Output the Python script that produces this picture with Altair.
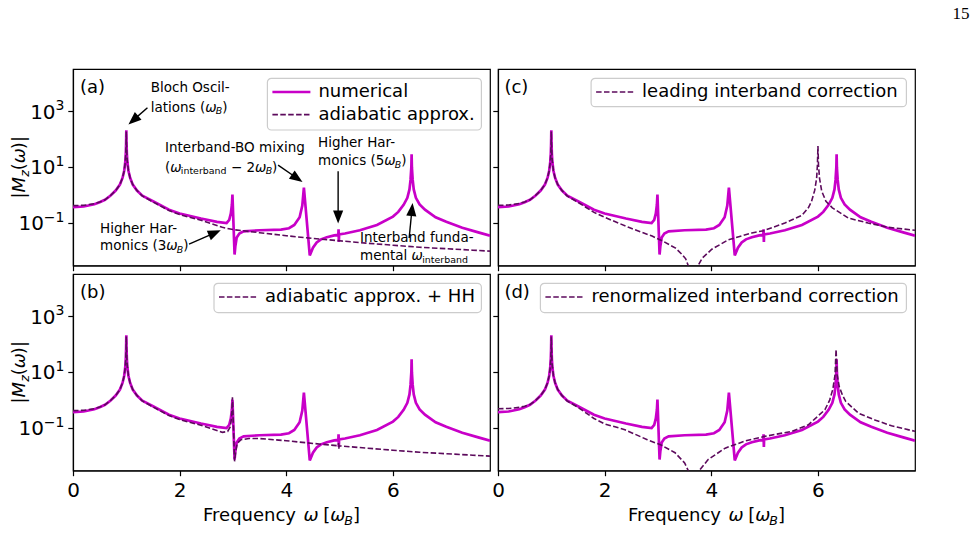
import math
import altair as alt
import pandas as pd

# |M_z(omega)| versus omega (in units of omega_B)
# numerical solution (same curve in all four panels)
num_w = [0.0, 0.2, 0.4, 0.5, 0.6, 0.7, 0.8, 0.88, 0.93, 0.96, 0.98, 0.99, 0.996, 1.0,
         1.004, 1.01, 1.02, 1.04, 1.07, 1.12, 1.2, 1.3, 1.5, 1.8, 2.0, 2.4, 2.7, 2.88,
         2.93, 2.96, 2.98, 2.99, 3.03, 3.045, 3.07, 3.12, 3.2, 3.5, 3.9, 4.05, 4.15,
         4.25, 4.3, 4.33, 4.44, 4.5, 4.57, 4.65, 4.76, 4.9, 4.976, 4.98, 4.986, 4.99,
         5.1, 5.38, 5.7, 6.0, 6.1, 6.2, 6.27, 6.31, 6.33, 6.345, 6.35, 6.355, 6.37,
         6.39, 6.43, 6.5, 6.6, 6.8, 7.0, 7.3, 7.6, 7.82]
num_m = [0.37, 0.39, 0.47, 0.55, 0.68, 0.95, 1.45, 2.4, 4.2, 7.5, 15, 30, 70, 210,
         70, 30, 15, 7.5, 4.2, 2.4, 1.45, 0.95, 0.6, 0.3, 0.22, 0.145, 0.11, 0.1,
         0.13, 0.22, 0.45, 1.05, 0.0074, 0.015, 0.03, 0.042, 0.05, 0.055, 0.058, 0.065, 0.085,
         0.16, 0.42, 1.85, 0.0069, 0.013, 0.02, 0.026, 0.031, 0.036, 0.038, 0.059, 0.021, 0.039,
         0.042, 0.055, 0.085, 0.17, 0.25, 0.45, 0.8, 1.6, 3.5, 10, 29, 10, 3.5,
         1.6, 0.8, 0.46, 0.3, 0.16, 0.11, 0.068, 0.046, 0.035]

# (a) adiabatic approximation
ad_w = [0.0, 0.2, 0.4, 0.5, 0.6, 0.7, 0.8, 0.88, 0.93, 0.96, 0.98, 0.99, 0.996, 1.0,
        1.004, 1.01, 1.02, 1.04, 1.07, 1.12, 1.2, 1.3, 1.5, 1.8, 2.0, 2.4, 2.8, 3.0,
        3.5, 4.0, 4.5, 5.0, 5.5, 6.0, 6.5, 7.0, 7.5, 7.82]
ad_m = [0.42, 0.43, 0.49, 0.56, 0.68, 0.95, 1.45, 2.4, 4.2, 7.5, 15, 30, 70, 190,
        70, 30, 15, 7.5, 4.2, 2.4, 1.45, 0.93, 0.57, 0.28, 0.2, 0.125, 0.07, 0.058,
        0.045, 0.035, 0.028, 0.023, 0.019, 0.016, 0.0135, 0.012, 0.0106, 0.0098]

# (b) adiabatic approximation + higher harmonics
hh_w = [0.0, 0.2, 0.4, 0.5, 0.6, 0.7, 0.8, 0.88, 0.93, 0.96, 0.98, 0.99, 0.996, 1.0,
        1.004, 1.01, 1.02, 1.04, 1.07, 1.12, 1.2, 1.3, 1.5, 1.8, 2.0, 2.4, 2.8, 2.9,
        2.95, 2.975, 2.99, 3.03, 3.05, 3.08, 3.15, 3.3, 3.5, 4.0, 4.5, 4.976, 4.98,
        4.986, 4.99, 5.5, 6.0, 6.5, 7.0, 7.5, 7.82]
hh_m = [0.42, 0.43, 0.49, 0.56, 0.68, 0.95, 1.45, 2.4, 4.2, 7.5, 15, 30, 70, 190,
        70, 30, 15, 7.5, 4.2, 2.4, 1.45, 0.93, 0.57, 0.28, 0.2, 0.125, 0.07, 0.075,
        0.11, 0.25, 1.27, 0.0064, 0.014, 0.028, 0.038, 0.042, 0.042, 0.035, 0.028, 0.023, 0.029,
        0.018, 0.023, 0.019, 0.016, 0.0135, 0.012, 0.0106, 0.0098]

# (c) leading interband correction
le_w = [0.0, 0.2, 0.4, 0.5, 0.6, 0.7, 0.8, 0.88, 0.93, 0.96, 0.98, 0.99, 0.996, 1.0,
        1.004, 1.01, 1.02, 1.04, 1.07, 1.12, 1.2, 1.3, 1.5, 1.8, 2.0, 2.45, 2.89, 3.08,
        3.33, 3.45, 3.52, 3.57, 3.62, 3.67, 3.71, 3.75, 3.83, 4.01, 4.32, 4.76, 4.98,
        5.38, 5.7, 5.82, 5.88, 5.94, 5.975, 5.99, 6.0, 6.01, 6.03, 6.07, 6.15, 6.27,
        6.57, 6.94, 7.32, 7.82]
le_m = [0.43, 0.44, 0.5, 0.57, 0.68, 0.95, 1.45, 2.4, 4.2, 7.5, 15, 30, 70, 190,
        70, 30, 15, 7.5, 4.2, 2.4, 1.45, 0.92, 0.55, 0.24, 0.16, 0.07, 0.034, 0.023,
        0.0126, 0.0075, 0.0052, 0.0029, 0.0015, 0.0002, 0.0015, 0.0029, 0.0055, 0.0115, 0.025, 0.044, 0.053,
        0.1, 0.19, 0.35, 0.6, 1.5, 4, 12, 57, 12, 4, 1.4, 0.6, 0.35,
        0.15, 0.1, 0.07, 0.055]

# (d) renormalized interband correction
re_w = [0.0, 0.2, 0.4, 0.5, 0.6, 0.7, 0.8, 0.88, 0.93, 0.96, 0.98, 0.99, 0.996, 1.0,
        1.004, 1.01, 1.02, 1.04, 1.07, 1.12, 1.2, 1.3, 1.5, 1.8, 2.0, 2.38, 2.8, 3.05,
        3.32, 3.5, 3.57, 3.62, 3.67, 3.72, 3.77, 3.94, 4.26, 4.63, 5.0, 5.51, 5.82,
        6.13, 6.22, 6.28, 6.32, 6.34, 6.36, 6.4, 6.46, 6.52, 6.76, 7.08, 7.38, 7.82]
re_m = [0.49, 0.5, 0.55, 0.6, 0.7, 0.95, 1.45, 2.4, 4.2, 7.5, 15, 30, 70, 190,
        70, 30, 15, 7.5, 4.2, 2.4, 1.45, 0.92, 0.55, 0.22, 0.14, 0.087, 0.038, 0.025,
        0.013, 0.0056, 0.0029, 0.0015, 0.0002, 0.0015, 0.0029, 0.0074, 0.019, 0.034, 0.05, 0.076, 0.13,
        0.45, 1.0, 2.5, 8, 65, 8, 3, 1.5, 0.9, 0.34, 0.19, 0.12, 0.076]

# annotation arrows in panel (a): tail -> tip, in (omega, |M_z|)
arrow_tail_w = [1.396, 2.176, 3.846, 4.972, 6.304]
arrow_tail_m = [1346, 0.0176, 11.8, 7.18, 0.0289]
arrow_tip_w = [1.039, 2.771, 4.304, 4.972, 6.368]
arrow_tip_m = [341, 0.0547, 2.97, 0.095, 0.522]

x_ticks = [0, 2, 4, 6]
y_ticks = [0.1, 10, 1000]
y_tick_exp = ["\u22121", "1", "3"]

for a, b in [(num_w, num_m), (ad_w, ad_m), (hh_w, hh_m), (le_w, le_m), (re_w, re_m)]:
    assert len(a) == len(b), (len(a), len(b))

# ---------------------------------------------------------------- styling
X_MAX = 7.82
Y_MIN, Y_MAX = 0.003, 33000.0
PW, PH = 417, 196.5
PX_PER_W = PW / X_MAX
PX_PER_DEC = PH / (math.log10(Y_MAX) - math.log10(Y_MIN))

MAGENTA = "#c800c8"
PURPLE = "#5c0a5c"
FONT = "DejaVu Sans"
FS = 18
FS_TICK = 20
FS_ANN = 13.5
DASH = [5.5, 2.4]

x_scale = alt.Scale(domain=[0, X_MAX], nice=False, zero=False)
y_scale = alt.Scale(type="log", domain=[Y_MIN, Y_MAX], nice=False)

# approximate DejaVu Sans advance widths (font units of 2048)
ADV = {" ": 651, "(": 799, ")": 799, "[": 799, "]": 799, "|": 690, "-": 739, "\u2212": 1716,
       "a": 1255, "b": 1300, "c": 1126, "d": 1300, "e": 1260, "f": 721, "g": 1300,
       "h": 1298, "i": 569, "l": 569, "m": 1995, "n": 1298, "o": 1253, "p": 1300,
       "q": 1300, "r": 842, "s": 1067, "t": 803, "u": 1298, "x": 1212, "y": 1212,
       "z": 1075, "B": 1405, "F": 1178, "H": 1540, "I": 604, "M": 1767, "O": 1612,
       "\u03c9": 1600}
for d in "0123456789":
    ADV[d] = 1303


def text_width(s, fs):
    return sum(ADV.get(c, 1250) for c in s) / 2048 * fs


def compose(parts, x0, y0, fs, angle=0):
    """Lay out a run of text pieces (normal / italic / subscript) from a baseline start."""
    rows, pos = [], 0.0
    for txt, kind in parts:
        sub = kind in ("sub", "subrm")
        size = fs * 0.7 if sub else fs
        drop = 0.2 * fs if sub else 0.0
        lead = len(txt) - len(txt.lstrip(" "))
        pos += text_width(" " * lead, size)      # SVG drops leading blanks
        body = txt.lstrip(" ")
        if angle == 270:
            px, py = x0 + drop, y0 - pos
        else:
            px, py = x0 + pos, y0 + drop
        rows.append({"px": px, "py": py, "text": body, "fs": size,
                     "italic": kind in ("it", "sub"), "ang": angle})
        pos += text_width(body, size)
    return rows


def run_width(parts, fs):
    return sum(text_width(t, fs * 0.7 if k in ("sub", "subrm") else fs) for t, k in parts)


def text_layers(rows, font=FONT):
    df = pd.DataFrame(rows)
    out = []
    for italic in (False, True):
        part = df[df["italic"] == italic]
        if len(part) == 0:
            continue
        out.append(
            alt.Chart(part).mark_text(font=font, align="left", baseline="alphabetic",
                                      color="black",
                                      fontStyle="italic" if italic else "normal")
            .encode(x=alt.X("px:Q", scale=None), y=alt.Y("py:Q", scale=None),
                    text="text:N", size=alt.Size("fs:Q", scale=None, legend=None),
                    angle=alt.Angle("ang:Q", scale=None))
        )
    return out


ONE = pd.DataFrame({"k": [0]})


def box(x1, x2, y1, y2, **kw):
    return alt.Chart(ONE).mark_rect(**kw).encode(
        x=alt.value(x1), x2=alt.value(x2), y=alt.value(y1), y2=alt.value(y2))


def hline(x1, x2, y, **kw):
    return alt.Chart(ONE).mark_rule(**kw).encode(x=alt.value(x1), x2=alt.value(x2), y=alt.value(y))


def axes(show_x):
    common = dict(grid=False, title=None, tickSize=5.2, tickWidth=1.2, tickColor="black",
                  domainColor="black", domainWidth=1.2, labelFont=FONT, labelFontSize=FS_TICK,
                  labelColor="black", labelPadding=5, labelFlush=False, labelOverlap=False)
    ax = alt.Axis(values=x_ticks, labels=show_x, format="d", **common)
    ay = alt.Axis(values=y_ticks, labels=False, **common)
    return ax, ay


def y_tick_labels():
    """10^n labels with a raised exponent, right-aligned next to the ticks."""
    sup = FS_TICK * 0.7
    df = pd.DataFrame({"v": y_ticks, "e": y_tick_exp,
                       "xe": [-8.5] * 3,
                       "xb": [-8.5 - text_width(e, sup) for e in y_tick_exp]})
    base = alt.Chart(df).mark_text(font=FONT, align="right", baseline="alphabetic",
                                   color="black", fontSize=FS_TICK, dy=7.3).encode(
        x=alt.X("xb:Q", scale=None), y=alt.Y("v:Q", scale=y_scale), text=alt.value("10"))
    exp = alt.Chart(df).mark_text(font=FONT, align="right", baseline="alphabetic",
                                  color="black", fontSize=sup, dy=-1.1).encode(
        x=alt.X("xe:Q", scale=None), y=alt.Y("v:Q", scale=y_scale), text="e:N")
    return [base, exp]


def curve(w, m, ax, ay, dashed):
    df = pd.DataFrame({"w": w, "m": m})
    if dashed:
        mk = alt.Chart(df).mark_line(clip=True, color=PURPLE, strokeWidth=1.6, strokeDash=DASH)
    else:
        mk = alt.Chart(df).mark_line(clip=True, color=MAGENTA, strokeWidth=2.7)
    return mk.encode(x=alt.X("w:Q", scale=x_scale, axis=ax), y=alt.Y("m:Q", scale=y_scale, axis=ay))


def legend(x1, rows, bottom):
    """rows: list of (label, dashed); matplotlib-like legend frame in the upper right."""
    layers = [box(x1, 408.4, 9.3, bottom, fill="white", fillOpacity=0.8, stroke="#cccccc",
                  strokeWidth=1.2, cornerRadius=4)]
    texts = []
    for i, (label, dashed) in enumerate(rows):
        yc = 23 + 22.6 * i
        if dashed:
            layers.append(hline(x1 + 5, x1 + 43, yc, color=PURPLE, strokeWidth=1.6, strokeDash=DASH))
        else:
            layers.append(hline(x1 + 5, x1 + 43, yc, color=MAGENTA, strokeWidth=2.7))
        texts += compose([(label, "n")], x1 + 51, yc + 5.4, FS)
    return layers, texts


def y_title():
    parts = [("|", "n"), ("M", "it"), ("z", "sub"), ("(", "n"), ("\u03c9", "it"), (")|", "n")]
    return compose(parts, -47.6, PH / 2 + run_width(parts, FS) / 2, FS, angle=270)


def x_title():
    parts = [("Frequency ", "n"), ("\u03c9", "it"), (" [", "n"), ("\u03c9", "it"), ("B", "sub"), ("]", "n")]
    return compose(parts, PW / 2 - run_width(parts, FS) / 2, 247.3, FS)


def arrow_layers(ax, ay):
    to_px = lambda w, m: (w * PX_PER_W, (math.log10(Y_MAX) - math.log10(m)) * PX_PER_DEC)
    to_data = lambda px, py: (px / PX_PER_W, 10 ** (math.log10(Y_MAX) - py / PX_PER_DEC))
    head = 13.0
    shafts, heads = [], []
    for tw, tm, hw, hm in zip(arrow_tail_w, arrow_tail_m, arrow_tip_w, arrow_tip_m):
        tx, ty = to_px(tw, tm)
        hx, hy = to_px(hw, hm)
        L = math.hypot(hx - tx, hy - ty)
        ux, uy = (hx - tx) / L, (hy - ty) / L
        cx, cy = hx - ux * head / 2, hy - uy * head / 2
        cw, cm = to_data(cx, cy)
        shafts.append({"w": tw, "m": tm, "w2": cw, "m2": cm})
        heads.append({"w": cw, "m": cm, "ang": math.degrees(math.atan2(ux, -uy)) % 360})
    rule = alt.Chart(pd.DataFrame(shafts)).mark_rule(color="black", strokeWidth=1.4).encode(
        x=alt.X("w:Q", scale=x_scale, axis=ax), y=alt.Y("m:Q", scale=y_scale, axis=ay),
        x2="w2:Q", y2="m2:Q")
    tri = alt.Chart(pd.DataFrame(heads)).mark_point(
        shape="M0,-1L0.78,1L-0.78,1Z", filled=True, color="black", opacity=1, size=head ** 2,
        strokeWidth=0).encode(
        x=alt.X("w:Q", scale=x_scale, axis=ax), y=alt.Y("m:Q", scale=y_scale, axis=ay),
        angle=alt.Angle("ang:Q", scale=None))
    return [rule, tri]


def annotations():
    rows = []
    rows += compose([("Bloch Oscil-", "n")], 77.7, 22.7, FS_ANN)
    rows += compose([("lations (", "n"), ("\u03c9", "it"), ("B", "sub"), (")", "n")], 77.7, 42.7, FS_ANN)
    rows += compose([("Interband-BO mixing", "n")], 92, 83.3, FS_ANN)
    rows += compose([("(", "n"), ("\u03c9", "it"), ("interband", "subrm"), (" \u2212 2", "n"),
                     ("\u03c9", "it"), ("B", "sub"), (")", "n")], 92, 102.7, FS_ANN)
    rows += compose([("Higher Har-", "n")], 245, 77.7, FS_ANN)
    rows += compose([("monics (5", "n"), ("\u03c9", "it"), ("B", "sub"), (")", "n")], 245, 96, FS_ANN)
    rows += compose([("Higher Har-", "n")], 27, 164.3, FS_ANN)
    rows += compose([("monics (3", "n"), ("\u03c9", "it"), ("B", "sub"), (")", "n")], 27, 181, FS_ANN)
    rows += compose([("Interband funda-", "n")], 287, 172.7, FS_ANN)
    rows += compose([("mental ", "n"), ("\u03c9", "it"), ("interband", "subrm")], 287, 191, FS_ANN)
    return rows


# ---------------------------------------------------------------- panels
def panel_a():
    ax, ay = axes(False)
    leg, leg_txt = legend(194.4, [("numerical", False), ("adiabatic approx.", True)], 61)
    texts = compose([("(a)", "n")], 7, 23.5, FS) + leg_txt + y_title() + annotations()
    layers = [box(-72.3, -71.3, -68, -67, opacity=0),
              curve(num_w, num_m, ax, ay, False), curve(ad_w, ad_m, ax, ay, True)]
    layers += arrow_layers(ax, ay) + leg + text_layers(texts) + y_tick_labels()
    return alt.layer(*layers).properties(width=PW, height=PH)


def panel_b():
    ax, ay = axes(True)
    leg, leg_txt = legend(141, [("adiabatic approx. + HH", True)], 38.6)
    texts = compose([("(b)", "n")], 7, 23.5, FS) + leg_txt + y_title() + x_title()
    layers = [box(-72.3, -71.3, 100, 101, opacity=0),
              curve(num_w, num_m, ax, ay, False), curve(hh_w, hh_m, ax, ay, True)]
    layers += leg + text_layers(texts) + y_tick_labels()
    return alt.layer(*layers).properties(width=PW, height=PH)


def panel_c():
    ax, ay = axes(False)
    leg, leg_txt = legend(93.1, [("leading interband correction", True)], 37.7)
    texts = compose([("(c)", "n")], 6.4, 23.5, FS) + leg_txt
    page = compose([("15", "n")], 454.5, -49.7, 17)
    layers = [box(100, 101, -68, -67, opacity=0),
              curve(num_w, num_m, ax, ay, False), curve(le_w, le_m, ax, ay, True)]
    layers += leg + text_layers(texts) + text_layers(page, font="Liberation Serif")
    return alt.layer(*layers).properties(width=PW, height=PH)


def panel_d():
    ax, ay = axes(True)
    leg, leg_txt = legend(42.4, [("renormalized interband correction", True)], 38.6)
    texts = compose([("(d)", "n")], 6.4, 23.5, FS) + leg_txt + x_title()
    layers = [curve(num_w, num_m, ax, ay, False), curve(re_w, re_m, ax, ay, True)]
    layers += leg + text_layers(texts)
    return alt.layer(*layers).properties(width=PW, height=PH)


top = alt.hconcat(panel_a(), panel_c(), spacing=0)
bottom = alt.hconcat(panel_b(), panel_d(), spacing=0)
chart = (
    alt.vconcat(top, bottom, spacing=1)
    .properties(padding={"left": 0, "top": 0, "right": 0, "bottom": 0}, background="white")
    .configure_view(stroke="black", strokeWidth=1.2)
)

chart.save("out.html", embed_options={"renderer": "svg", "actions": False})
